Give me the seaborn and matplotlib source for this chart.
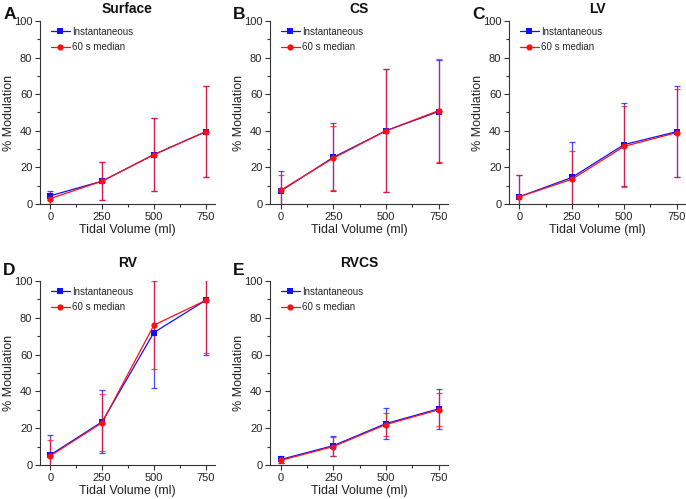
import numpy as np
import pandas as pd
import matplotlib
matplotlib.use("Agg")
import matplotlib.pyplot as plt
import seaborn as sns
from matplotlib.ticker import MultipleLocator

sns.set_theme(style="ticks")
plt.rcParams['font.family'] = ['Liberation Sans', 'DejaVu Sans']

tidal = [0, 250, 500, 750]
panels = ["Surface", "CS", "LV", "RV", "RVCS"]
letters = ["A", "B", "C", "D", "E"]

inst_mean = {
    "Surface": [4.5, 12.5, 27.0, 39.5],
    "CS": [7.0, 25.5, 40.0, 50.5],
    "LV": [4.0, 14.5, 32.5, 39.5],
    "RV": [5.5, 23.5, 72.0, 89.5],
    "RVCS": [3.0, 10.5, 22.5, 30.5],
}
inst_err = {
    "Surface": [2.5, 10.5, 20.0, 25.0],
    "CS": [11.0, 18.5, 33.5, 28.0],
    "LV": [12.0, 19.5, 22.5, 25.0],
    "RV": [11.0, 17.0, 30.0, 29.5],
    "RVCS": [2.0, 5.5, 8.5, 11.0],
}
med_mean = {
    "Surface": [3.0, 12.5, 27.0, 39.5],
    "CS": [7.5, 25.0, 40.0, 51.0],
    "LV": [4.0, 13.5, 31.5, 39.0],
    "RV": [5.0, 23.0, 76.0, 89.5],
    "RVCS": [2.5, 10.0, 22.0, 30.0],
}
med_err = {
    "Surface": [3.0, 10.5, 20.0, 25.0],
    "CS": [8.5, 17.5, 33.5, 28.0],
    "LV": [12.0, 15.5, 22.0, 24.0],
    "RV": [8.5, 15.5, 24.0, 28.5],
    "RVCS": [1.5, 5.0, 6.0, 9.0],
}

BLUE = "#1010ff"
RED = "#ff1010"

W, H = 686, 499
fig = plt.figure(figsize=(W / 100, H / 100), dpi=100)

# pixel boxes: left, top, right, bottom
boxes = [
    (40, 21, 215, 204),
    (270, 21, 448, 204),
    (509, 21, 686, 204),
    (40, 281, 215, 465),
    (270, 281, 448, 465),
]
title_pads = [6, 6, 6, 10, 10]
letter_y = [1.01, 1.01, 1.01, 1.033, 1.033]

for i, (name, letter, (l, t, r, b)) in enumerate(zip(panels, letters, boxes)):
    ax = fig.add_axes([l / W, 1 - b / H, (r - l) / W, (b - t) / H])
    ax.patch.set_alpha(0)
    df = pd.concat([
        pd.DataFrame({"Tidal": tidal, "val": inst_mean[name], "series": "Instantaneous"}),
        pd.DataFrame({"Tidal": tidal, "val": med_mean[name], "series": "60 s median"}),
    ])
    ax.errorbar(tidal, inst_mean[name], yerr=inst_err[name], fmt="none",
                ecolor=BLUE, elinewidth=0.9, capsize=2, capthick=0.9, alpha=0.75)
    ax.errorbar(tidal, med_mean[name], yerr=med_err[name], fmt="none",
                ecolor=RED, elinewidth=0.9, capsize=2, capthick=0.9, alpha=0.75)
    sns.lineplot(data=df, x="Tidal", y="val", hue="series", style="series",
                 palette={"Instantaneous": BLUE, "60 s median": RED},
                 markers={"Instantaneous": "s", "60 s median": "o"},
                 dashes=False, markersize=4.5, markeredgewidth=0, linewidth=0.9,
                 ax=ax)
    ax.set_xlim(-50, 795)
    ax.set_ylim(0, 100)
    ax.set_xticks(tidal)
    ax.set_yticks([0, 20, 40, 60, 80, 100])
    ax.xaxis.set_minor_locator(MultipleLocator(125))
    ax.yaxis.set_minor_locator(MultipleLocator(10))
    ax.tick_params(which="major", direction="out", length=3.5, width=0.8,
                   labelsize=8, colors="#333333", labelcolor="#222222", pad=2)
    ax.tick_params(which="minor", direction="out", length=2, width=0.8, colors="#333333")
    for s in ["top", "right"]:
        ax.spines[s].set_visible(False)
    for s in ["left", "bottom"]:
        ax.spines[s].set_linewidth(0.8)
        ax.spines[s].set_color("#333333")
    ax.set_xlabel("Tidal Volume (ml)", fontsize=9, labelpad=2, color="#222222")
    ax.set_ylabel("% Modulation", fontsize=9, color="#222222")
    ax.yaxis.set_label_coords(-0.14, 0.5)
    ax.set_title(name, fontsize=10, fontweight="bold", pad=title_pads[i], color="#111111")
    ax.text(-0.21, letter_y[i], letter, transform=ax.transAxes, fontsize=12.5,
            fontweight="bold", ha="left", va="baseline", color="#111111")
    ax.legend(loc="upper left", frameon=False, fontsize=7, title=None,
              handlelength=1.9, handletextpad=0.25, labelspacing=0.55,
              borderaxespad=0.2, bbox_to_anchor=(0.03, 1.0))

fig.savefig("out.png", dpi=100)
